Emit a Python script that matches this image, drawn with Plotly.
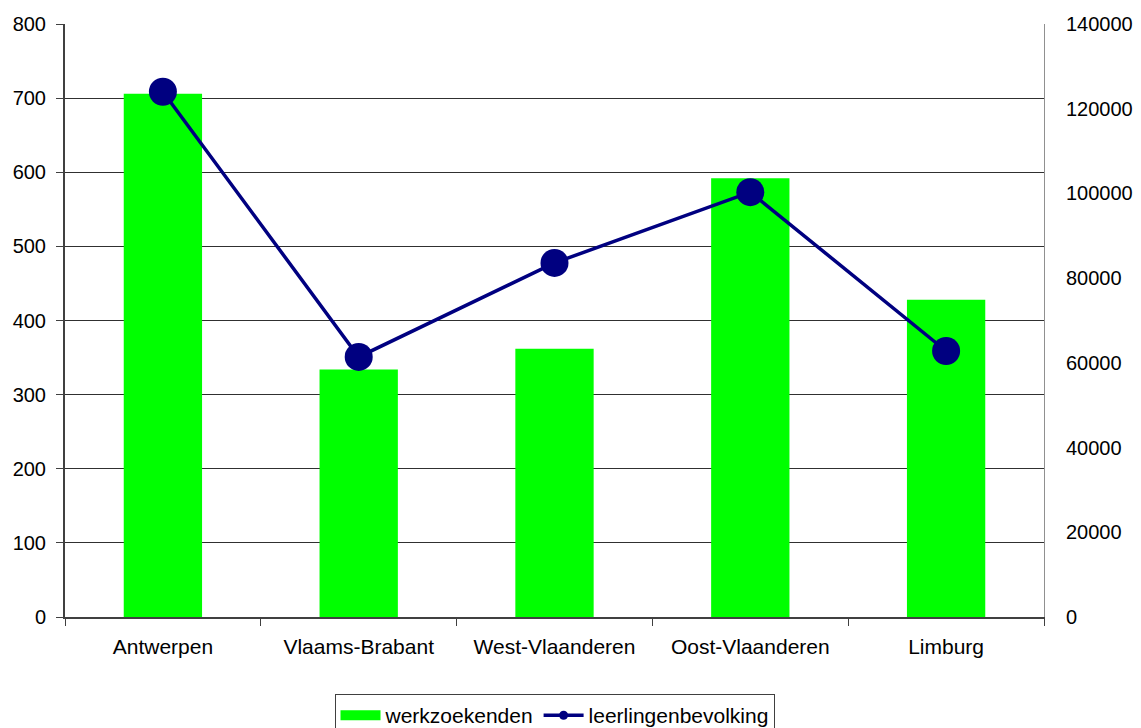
import plotly.graph_objects as go

categories = ["Antwerpen", "Vlaams-Brabant", "West-Vlaanderen", "Oost-Vlaanderen", "Limburg"]
werkzoekenden = [706, 334, 362, 592, 428]
leerlingenbevolking = [124000, 61400, 83600, 100300, 62800]
left_ticks = [0, 100, 200, 300, 400, 500, 600, 700, 800]
right_ticks = [0, 20000, 40000, 60000, 80000, 100000, 120000, 140000]

GREEN = "#00FF00"
NAVY = "#000080"
FONT = "Liberation Sans, Arial, sans-serif"
FS = 20

fig = go.Figure()
fig.add_trace(go.Bar(x=categories, y=werkzoekenden, marker=dict(color=GREEN, line=dict(width=0)),
                     name="werkzoekenden", showlegend=False, yaxis="y"))
fig.add_trace(go.Scatter(x=categories, y=leerlingenbevolking, mode="lines+markers",
                         line=dict(color=NAVY, width=3.5), marker=dict(color=NAVY, size=28),
                         name="leerlingenbevolking", showlegend=False, yaxis="y2"))
# legend entries
fig.add_trace(go.Scatter(x=[None], y=[None], mode="lines", line=dict(color=GREEN, width=10),
                         name="werkzoekenden", showlegend=True))
fig.add_trace(go.Scatter(x=[None], y=[None], mode="lines+markers", line=dict(color=NAVY, width=3.5),
                         marker=dict(color=NAVY, size=9), name="leerlingenbevolking", yaxis="y2", showlegend=True))

fig.update_layout(
    width=1141, height=728,
    margin=dict(l=65, r=97, t=24, b=111, autoexpand=False),
    plot_bgcolor="white", paper_bgcolor="white",
    font=dict(family=FONT, size=FS, color="#000000"),
    bargap=0.6,
    xaxis=dict(type="category", categoryorder="array", categoryarray=categories,
               showgrid=False, showline=True, linecolor="#404040", linewidth=1.5,
               ticks="outside", tickson="boundaries", ticklen=7, tickcolor="#404040",
               tickfont=dict(size=21), zeroline=False, automargin=False, ticklabelstandoff=10),
    yaxis=dict(range=[0, 800], tickvals=left_ticks, showgrid=True, gridcolor="#303030", gridwidth=1,
               showline=True, linecolor="#404040", linewidth=2, ticks="outside", ticklen=7,
               tickcolor="#404040", zeroline=False, ticklabelstandoff=6, tickfont=dict(size=FS),
               automargin=False),
    yaxis2=dict(range=[0, 140000], tickvals=right_ticks, overlaying="y", side="right",
                tickformat="d", showgrid=False, showline=True, linecolor="#909090", linewidth=1,
                ticks="", zeroline=False, ticklabelstandoff=17, tickfont=dict(size=FS),
                automargin=False),
    legend=dict(orientation="h", x=0.5, xanchor="center", y=-0.13, yanchor="top",
                bordercolor="#404040", borderwidth=1, font=dict(size=21),
                traceorder="normal", itemwidth=40),
)

fig.write_html("out.html", config={"displayModeBar": False},
               post_script="document.body.style.margin='0';document.body.style.padding='0';")
